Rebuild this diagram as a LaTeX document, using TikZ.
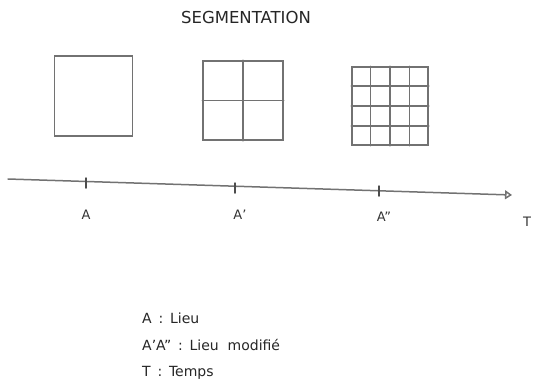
\documentclass[tikz,border=0pt]{standalone}
\usepackage{fontspec}
\setmainfont{DejaVu Sans}
\usetikzlibrary{arrows.meta,calc}
\definecolor{pencil}{HTML}{727272}
\tikzset{
  pen/.style={draw=pencil, line width=1.5pt, line cap=round},
  lbl/.style={font=\fontsize{13}{15}\selectfont, text=black!80, inner sep=0pt},
  legend/.style={font=\fontsize{14}{16}\selectfont, text=black!85, inner sep=0pt, anchor=west},
}
\begin{document}
\begin{tikzpicture}[x=1pt,y=-1pt]
\useasboundingbox (0,0) rectangle (533,389);
% title
\node[font=\fontsize{16.5}{18}\selectfont, text=black!85] (title) at (246,17) {SEGMENTATION};
% square 1
\node[pen, draw, minimum width=78pt, minimum height=80pt, inner sep=0pt] (s1) at (93.5,96) {};
% square 2
\node[pen, draw, minimum width=80pt, minimum height=79pt, inner sep=0pt] (s2) at (243,100.5) {};
\draw[pen] (s2.north) -- (s2.south);
\draw[pen] (s2.west) -- (s2.east);
% square 3
\node[pen, draw, minimum width=76pt, minimum height=78pt, inner sep=0pt] (s3) at (390,106) {};
\foreach \f in {0.25,0.5,0.75}{
  \draw[pen] ($(s3.north west)!\f!(s3.north east)$) -- ($(s3.south west)!\f!(s3.south east)$);
  \draw[pen] ($(s3.north west)!\f!(s3.south west)$) -- ($(s3.north east)!\f!(s3.south east)$);
}
% timeline
\coordinate (t0) at (8,179);
\coordinate (t1) at (512,195);
\draw[pen, -{Triangle[open, length=7pt, width=9pt]}] (t0) -- (t1);
\coordinate (a0) at (86,183);
\coordinate (a1) at (235,188);
\coordinate (a2) at (379,191);
\foreach \c in {a0,a1,a2}{
  \draw[pen, draw=black!70] ([yshift=-5pt]\c) -- ([yshift=5pt]\c);
}
\node[lbl] (la0) at (86,215) {A};
\node[lbl] (la1) at (240,215) {A'};
\node[lbl] (la2) at (384,217) {A''};
\node[lbl] (lt) at (527,222) {T};
% legend
\node[legend] (g1) at (142,318) {A \,:\, Lieu};
\node[legend] (g2) at (142,345) {A'A'' \,:\, Lieu\ \ modifié};
\node[legend] (g3) at (142,373) {T \,:\, Temps};
\end{tikzpicture}
\end{document}
